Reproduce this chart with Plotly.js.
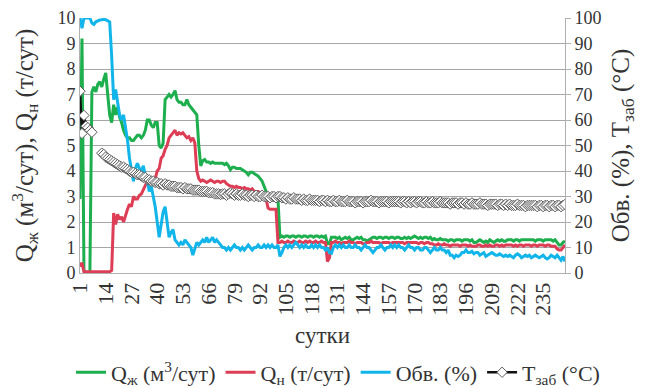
<!DOCTYPE html>
<html>
<head>
<meta charset="utf-8">
<script src="https://cdn.plot.ly/plotly-3.0.1.min.js"></script>
<style>
html,body{margin:0;padding:0;background:#fff;}
#chart{width:649px;height:388px;}
</style>
</head>
<body>
<div id="chart"></div>
<script>
// Days (сутки) 1..246
const days = [];
for (let d = 1; d <= 246; d++) days.push(d);

const xTickDays = [1,14,27,40,53,66,79,92,105,118,131,144,157,170,183,196,209,222,235];

// Q_ж (м3/сут), left axis
const qLiquid = [
 2.9, 9.2, 0.1, 0, 0, 0, 7.1, 7.3, 7.1, 7.4,
 7.5, 7.3, 7.6, 7.85, 7.0, 6.2, 5.9, 6.6, 6.2, 6.5,
 6.1, 5.9, 5.6, 5.4, 5.3, 5.3, 5.2, 5.2, 5.3, 5.4,
 5.4, 5.3, 5.4, 5.6, 6.0, 6.0, 5.8, 5.7, 5.9, 5.9,
 5.0, 4.9, 5.1, 6.8, 6.9, 7.0, 6.9, 7.0, 7.15, 6.8,
 6.7, 6.7, 6.6, 6.6, 6.8, 6.6, 6.5, 6.4, 6.3, 6.2,
 5.0, 4.2, 4.4, 4.45, 4.35, 4.35, 4.3, 4.35, 4.3, 4.3,
 4.3, 4.3, 4.3, 4.25, 4.3, 4.2, 4.05, 4.15, 4.15, 4.1,
 4.1, 4.1, 4.05, 4.0, 3.95, 3.85, 3.95, 3.95, 3.9, 3.85,
 3.8, 3.7, 3.6, 3.4, 3.2, 3.0, 2.95, 2.9, 2.9, 2.9,
 2.9, 1.4, 1.45, 1.4, 1.45, 1.45, 1.4, 1.45, 1.45, 1.4,
 1.45, 1.45, 1.4, 1.45, 1.45, 1.4, 1.45, 1.45, 1.4, 1.45,
 1.45, 1.4, 1.45, 1.4, 1.45, 1.15, 1.15, 1.4, 1.4, 1.4,
 1.35, 1.4, 1.3, 1.35, 1.4, 1.35, 1.4, 1.3, 1.3, 1.35,
 1.4, 1.35, 1.4, 1.3, 1.3, 1.25, 1.3, 1.35, 1.4, 1.4,
 1.35, 1.4, 1.4, 1.35, 1.4, 1.4, 1.35, 1.4, 1.4, 1.35,
 1.4, 1.4, 1.35, 1.35, 1.4, 1.35, 1.4, 1.35, 1.4, 1.45,
 1.4, 1.35, 1.4, 1.35, 1.4, 1.4, 1.35, 1.4, 1.3, 1.35,
 1.3, 1.3, 1.35, 1.3, 1.3, 1.3, 1.25, 1.3, 1.3, 1.25,
 1.3, 1.3, 1.3, 1.25, 1.3, 1.3, 1.3, 1.25, 1.3, 1.2,
 1.2, 1.25, 1.3, 1.25, 1.2, 1.25, 1.2, 1.3, 1.25, 1.2,
 1.25, 1.3, 1.25, 1.3, 1.25, 1.25, 1.3, 1.3, 1.3, 1.25,
 1.3, 1.3, 1.25, 1.3, 1.3, 1.3, 1.3, 1.3, 1.3, 1.3,
 1.25, 1.3, 1.3, 1.3, 1.25, 1.3, 1.3, 1.3, 1.3, 1.25,
 1.3, 1.2, 1.1, 1.1, 1.2, 1.25
];

// Q_н (т/сут), left axis
const qOil = [
 0.25, 0.4, 0.05, 0.05, 0.05, 0.05, 0.05, 0.05, 0.05, 0.05,
 0.05, 0.05, 0.05, 0.05, 0.05, 0.05, 0.1, 2.35, 1.9, 2.3,
 2.1, 2.2, 2.0, 2.3, 2.5, 2.7, 2.6, 3.0, 2.9, 2.9,
 3.05, 3.1, 3.25, 3.4, 3.6, 3.65, 3.55, 3.6, 3.7, 4.0,
 4.1, 4.5, 4.6, 4.85, 5.0, 5.3, 5.4, 5.5, 5.6, 5.4,
 5.5, 5.45, 5.5, 5.4, 5.3, 5.35, 5.2, 5.3, 5.1, 4.0,
 3.7, 3.6, 3.65, 3.6, 3.55, 3.6, 3.65, 3.6, 3.55, 3.6,
 3.6, 3.55, 3.6, 3.6, 3.5, 3.45, 3.4, 3.4, 3.35, 3.4,
 3.35, 3.35, 3.3, 3.35, 3.3, 3.3, 3.25, 3.3, 3.2, 3.2,
 3.2, 3.15, 3.1, 3.05, 2.9, 2.55, 2.5, 2.5, 2.5, 2.5,
 1.2, 1.2, 1.25, 1.2, 1.2, 1.25, 1.2, 1.2, 1.25, 1.2,
 1.2, 1.25, 1.2, 1.2, 1.25, 1.2, 1.25, 1.2, 1.2, 1.25,
 1.2, 1.2, 1.25, 1.2, 1.2, 0.45, 0.6, 1.2, 1.2, 1.25,
 1.2, 1.2, 1.15, 1.2, 1.2, 1.2, 1.25, 1.2, 1.2, 1.15,
 1.2, 1.2, 1.2, 1.15, 1.15, 1.2, 1.2, 1.25, 1.2, 1.2,
 1.2, 1.2, 1.15, 1.2, 1.2, 1.2, 1.2, 1.15, 1.2, 1.2,
 1.2, 1.2, 1.2, 1.2, 1.15, 1.2, 1.2, 1.2, 1.2, 1.2,
 1.2, 1.15, 1.2, 1.2, 1.15, 1.2, 1.2, 1.15, 1.15, 1.1,
 1.1, 1.15, 1.1, 1.1, 1.15, 1.1, 1.1, 1.05, 1.1, 1.1,
 1.1, 1.1, 1.05, 1.1, 1.1, 1.1, 1.05, 1.1, 1.05, 1.05,
 1.05, 1.1, 1.1, 1.05, 1.05, 1.1, 1.05, 1.1, 1.05, 1.05,
 1.1, 1.1, 1.05, 1.1, 1.05, 1.1, 1.1, 1.1, 1.1, 1.05,
 1.1, 1.05, 1.1, 1.1, 1.05, 1.1, 1.1, 1.1, 1.05, 1.1,
 1.1, 1.05, 1.1, 1.1, 1.1, 1.05, 1.1, 1.1, 1.05, 1.05,
 1.05, 0.95, 0.9, 0.9, 1.0, 1.1
];

// Обв. (%), right axis
const waterCut = [
 100, 96, 100, 100, 100, 100, 98, 97.5, 98.5, 99,
 99.2, 99.3, 99.5, 99.3, 99, 98.5, 85, 68, 72, 66,
 62, 60, 62, 57, 52, 45, 40, 36, 41, 43,
 41, 40, 42, 38, 36, 32, 34, 30, 26, 20,
 14, 19, 24, 26, 20, 14, 16, 17, 13, 12,
 11, 12, 11, 13, 12, 11, 10, 7, 10, 12,
 11, 12, 13, 12, 14, 12, 13, 14, 12, 13,
 12, 11, 10, 10, 9, 10, 9, 10, 11, 10,
 10, 9, 10, 9, 10, 11, 10, 9, 10, 10,
 11, 10, 10, 11, 10, 11, 10, 11, 10, 10,
 11, 6.5, 8, 10, 11, 10, 11, 10, 11, 12,
 11, 10, 11, 10, 11, 10, 10, 11, 10, 11,
 10, 11, 10, 10, 9, 10, 8, 7.7, 10, 11,
 10, 11, 10, 11, 10, 10, 11, 10, 10, 11,
 10, 10, 9, 10, 11, 10, 10, 9, 8, 9,
 10, 10, 11, 10, 9, 10, 10, 11, 10, 11,
 10, 11, 10, 10, 9, 10, 11, 10, 10, 9,
 10, 10, 9, 9, 10, 10, 9, 8, 9, 10,
 9, 9, 10, 9, 9, 8, 9, 7, 7, 6,
 7, 6.5, 7, 8, 8, 9, 8, 8, 8.5, 7.5,
 8, 8, 7, 7.5, 8, 6.5, 7, 7.5, 8, 7.5,
 7, 7, 7.5, 7, 6.5, 7, 6.5, 7, 6.5, 6,
 7, 7.5, 7, 6, 6.5, 7, 6.5, 7, 6, 6.5,
 7, 6.5, 6, 6.5, 7, 6, 5.5, 6, 7, 6.5,
 6, 7, 6, 5, 6.5, 4.5
];

// T_заб (°C), right axis (no readings on days 8–11)
const tBottom = [
 71.3, 54.7, 61.8, 57.6, 57, 56, 55.2, null, null, null,
 null, 47, 46.5, 45.5, 45, 44.5, 44, 43.5, 43, 42.5,
 42, 41.5, 41.5, 41, 40.6, 40, 39.5, 39.5, 39, 38.5,
 38.5, 38, 37.5, 37.5, 36.7, 36.5, 36, 36, 35.5, 35.5,
 35, 35, 34.5, 35, 34.5, 34.5, 34, 34, 34, 33.5,
 33.5, 33.5, 33, 33.5, 33, 33, 33, 32.5, 32.5, 32.5,
 32.5, 32, 32, 32, 32, 31.5, 31.5, 31.5, 31, 31,
 31, 30.8, 31, 31, 30.5, 31, 31.4, 31, 30.5, 31,
 30.5, 30.5, 31, 30.5, 30.5, 30, 30.5, 30.5, 30, 30.5,
 30, 30, 30.5, 30, 30, 30, 29.5, 30, 30, 29.5,
 30, 30, 29.5, 29.5, 29, 29.5, 29, 29, 29.5, 29,
 29, 29, 28.5, 29, 28.5, 28.5, 29, 28.5, 28.5, 28.5,
 28.5, 28, 28.5, 28.5, 28, 28.5, 28, 28, 28.5, 28,
 28, 28.5, 28, 28, 28, 28.5, 28, 28, 28, 27.5,
 28, 28, 28, 27.5, 28, 28, 28, 28.5, 28, 28,
 28, 27.5, 28, 28, 28, 28, 27.5, 28, 28, 28,
 28, 28, 27.5, 28, 28, 27.5, 28, 27.5, 28, 28,
 27.5, 28, 28, 27.5, 27.5, 28, 27.5, 27.5, 28, 27.5,
 27.5, 27.5, 28, 27.5, 27.5, 27.5, 27.5, 27, 27.5, 27.5,
 27.5, 27, 27.5, 27.5, 27, 27.5, 27, 27, 27.5, 27,
 27, 27, 27.5, 27, 27, 27, 26.5, 27, 27, 27,
 27, 26.5, 27, 27, 26.5, 27, 26.5, 27, 26.5, 26.5,
 26.5, 27, 26.5, 26.5, 26.5, 26, 26.5, 26.5, 26.5, 26.5,
 26.5, 26, 26.5, 26.5, 26, 26.5, 26.5, 26, 26.5, 26.5,
 26, 26.5, 26.5, 26, 26.5, 26.9
];

const seriesNames = [
 'Q<sub>ж</sub> (м<sup>3</sup>/сут)',
 'Q<sub>н</sub> (т/сут)',
 'Обв. (%)',
 'T<sub>заб</sub> (°C)'
];

const FONT = 'Liberation Serif, Times New Roman, serif';
const TXT = '#333333';

const traces = [
 {x: days, y: qLiquid, name: seriesNames[0], type: 'scatter', mode: 'lines',
  line: {color: '#1DAF4E', width: 3}, yaxis: 'y'},
 {x: days, y: qOil, name: seriesNames[1], type: 'scatter', mode: 'lines',
  line: {color: '#DD3E55', width: 3}, yaxis: 'y'},
 {x: days, y: waterCut, name: seriesNames[2], type: 'scatter', mode: 'lines',
  line: {color: '#12B5EA', width: 3}, yaxis: 'y2'},
 {x: days, y: tBottom, name: seriesNames[3], type: 'scatter', mode: 'lines+markers',
  connectgaps: false,
  line: {color: '#111111', width: 2.5},
  marker: {symbol: 'diamond', size: 8, color: '#ffffff', line: {color: '#5a5a5a', width: 1}},
  yaxis: 'y2'}
];

const layout = {
 width: 649, height: 388,
 margin: {l: 80, r: 84, t: 18, b: 115, autoexpand: false},
 paper_bgcolor: '#ffffff', plot_bgcolor: '#ffffff',
 font: {family: FONT, color: TXT, size: 18},
 showlegend: true,
 legend: {orientation: 'h', x: 1.0825, xanchor: 'right', y: -0.39, yanchor: 'middle',
  font: {family: FONT, size: 22, color: TXT}, itemwidth: 30, tracegroupgap: 0,
  bgcolor: 'rgba(0,0,0,0)'},
 xaxis: {
  range: [1, 246], tickmode: 'array', tickvals: xTickDays, ticktext: xTickDays.map(String),
  tickangle: -90, tickfont: {family: FONT, size: 22, color: TXT},
  showgrid: false, zeroline: false, showline: true, linecolor: '#b0b0b0', linewidth: 1,
  ticks: '', automargin: false,
  title: {text: 'сутки', font: {family: FONT, size: 23, color: TXT}, standoff: 12}
 },
 yaxis: {
  range: [0, 10], dtick: 1, tick0: 0,
  tickfont: {family: FONT, size: 18, color: TXT},
  showgrid: true, gridcolor: '#a6a6a6', gridwidth: 1, zeroline: false,
  showline: true, linecolor: '#b0b0b0', ticks: '', automargin: false,
  title: {text: 'Q<sub>ж</sub> (м<sup>3</sup>/сут), Q<sub>н</sub> (т/сут)',
   font: {family: FONT, size: 25, color: TXT}, standoff: 16}
 },
 yaxis2: {
  range: [0, 100], dtick: 10, tick0: 0, overlaying: 'y', side: 'right',
  tickfont: {family: FONT, size: 18, color: TXT},
  showgrid: false, zeroline: false, showline: true, linecolor: '#b0b0b0',
  ticks: 'outside', ticklen: 5, tickcolor: '#b0b0b0', automargin: false,
  title: {text: 'Обв. (%), T<sub>заб</sub> (°C)',
   font: {family: FONT, size: 25, color: TXT}, standoff: 10}
 }
};

Plotly.newPlot('chart', traces, layout, {displayModeBar: false, staticPlot: true});
</script>
</body>
</html>
